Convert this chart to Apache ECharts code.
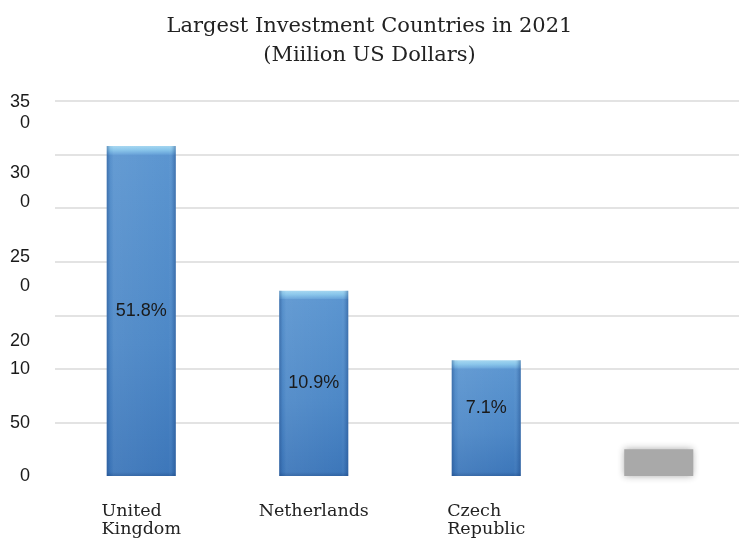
<!DOCTYPE html>
<html>
<head>
<meta charset="utf-8">
<script src="https://cdn.jsdelivr.net/npm/echarts@6/dist/echarts.min.js"></script>
<style>
  html, body { margin: 0; padding: 0; background: #ffffff; }
  #chart { width: 739px; height: 543px; }
</style>
</head>
<body>
<div id="chart"></div>
<script>
// Investment by country, 2021
const countries = ['United\nKingdom', 'Netherlands', 'Czech\nRepublic', ''];
const investment = [308, 173, 108, 25];
const shares = ['51.8%', '10.9%', '7.1%', ''];

// Y-axis labels, as printed on the axis
const tickValues = [0, 49.5, 100.3, 126, 177.3, 204, 255.3, 283.2, 329.4, 349.5];
const tickLabels = ['0', '50', '10', '20', '0', '25', '0', '30', '0', '35'];

const Y_MAX = 350;
const PLOT_H = 375;
const SERIF = '"DejaVu Serif", serif';
const SANS = '"Liberation Sans", Arial, sans-serif';

const chart = echarts.init(document.getElementById('chart'), null, { renderer: 'canvas' });

// Blue bars with a light bevelled cap; the last bar is a soft grey block
function barItem(v, i) {
  const px = v * PLOT_H / Y_MAX;
  const c = Math.min(0.5, 8 / px);
  const b = Math.max(0.5, 1 - 4 / px);
  if (i === 3) {
    return {
      value: v,
      itemStyle: {
        color: '#a9a9a9',
        shadowBlur: 7,
        shadowColor: 'rgba(165,165,165,0.95)'
      }
    };
  }
  return {
    value: v,
    itemStyle: {
      color: {
        type: 'linear', x: 0, y: 0, x2: 0, y2: 1,
        colorStops: [
          { offset: 0, color: '#a3d6f0' },
          { offset: c * 0.5, color: '#86c4ea' },
          { offset: c, color: '#68a4da' },
          { offset: c + 0.004, color: '#5b95d0' },
          { offset: 0.6, color: '#4d88c7' },
          { offset: b, color: '#3d77ba' },
          { offset: 1, color: '#2f63a3' }
        ]
      }
    }
  };
}

const edgeShade = {
  type: 'linear', x: 0, y: 0, x2: 1, y2: 0,
  colorStops: [
    { offset: 0, color: 'rgba(30,70,130,0.45)' },
    { offset: 0.05, color: 'rgba(30,70,130,0.05)' },
    { offset: 0.1, color: 'rgba(255,255,255,0.06)' },
    { offset: 0.9, color: 'rgba(255,255,255,0.0)' },
    { offset: 0.95, color: 'rgba(30,70,130,0.1)' },
    { offset: 1, color: 'rgba(30,70,130,0.45)' }
  ]
};

const labelShift = [0, 0, -10, 0];

chart.setOption({
  backgroundColor: '#ffffff',
  animation: false,
  title: {
    text: 'Largest Investment Countries in 2021\n(Miilion US Dollars)',
    left: 'center',
    top: 7,
    textStyle: {
      fontFamily: SERIF,
      fontSize: 21,
      fontWeight: 'normal',
      color: '#222222',
      lineHeight: 29
    }
  },
  grid: { left: 55, top: 101, width: 690, height: PLOT_H, outerBoundsMode: 'none' },
  xAxis: {
    type: 'category',
    data: countries,
    axisLine: { show: false },
    axisTick: { show: false },
    axisLabel: {
      interval: 0,
      margin: 26,
      formatter: function (v) {
        if (!v) return '';
        return v.split('\n').map(function (l) { return '{a|' + l + '}'; }).join('\n');
      },
      rich: {
        a: {
          align: 'left',
          fontFamily: SERIF,
          fontSize: 17.5,
          lineHeight: 18.5,
          color: '#222222'
        }
      }
    }
  },
  yAxis: {
    type: 'value',
    min: 0,
    max: Y_MAX,
    interval: 50,
    axisLine: { show: false },
    axisTick: { show: false },
    axisLabel: {
      customValues: tickValues,
      margin: 25,
      fontFamily: SANS,
      fontSize: 18,
      color: '#1a1a1a',
      formatter: function (v) {
        const i = tickValues.indexOf(v);
        return i >= 0 ? tickLabels[i] : '';
      }
    },
    splitLine: {
      lineStyle: {
        color: ['rgba(0,0,0,0)', '#dadada', '#dadada', '#dadada', '#dadada', '#dadada', '#dadada', '#dadada'],
        width: 1.5
      }
    }
  },
  series: [
    {
      type: 'bar',
      barWidth: 69,
      data: investment.map(barItem),
      z: 2
    },
    {
      type: 'bar',
      barWidth: 69,
      barGap: '-100%',
      silent: true,
      z: 3,
      data: investment.map(function (v, i) {
        return {
          value: v,
          itemStyle: { color: i === 3 ? 'rgba(0,0,0,0)' : edgeShade },
          label: { offset: [0, labelShift[i]] }
        };
      }),
      label: {
        show: true,
        position: 'inside',
        fontFamily: SANS,
        fontSize: 18,
        color: '#1a1a1a',
        formatter: function (p) { return shares[p.dataIndex]; }
      }
    }
  ]
});
</script>
</body>
</html>
